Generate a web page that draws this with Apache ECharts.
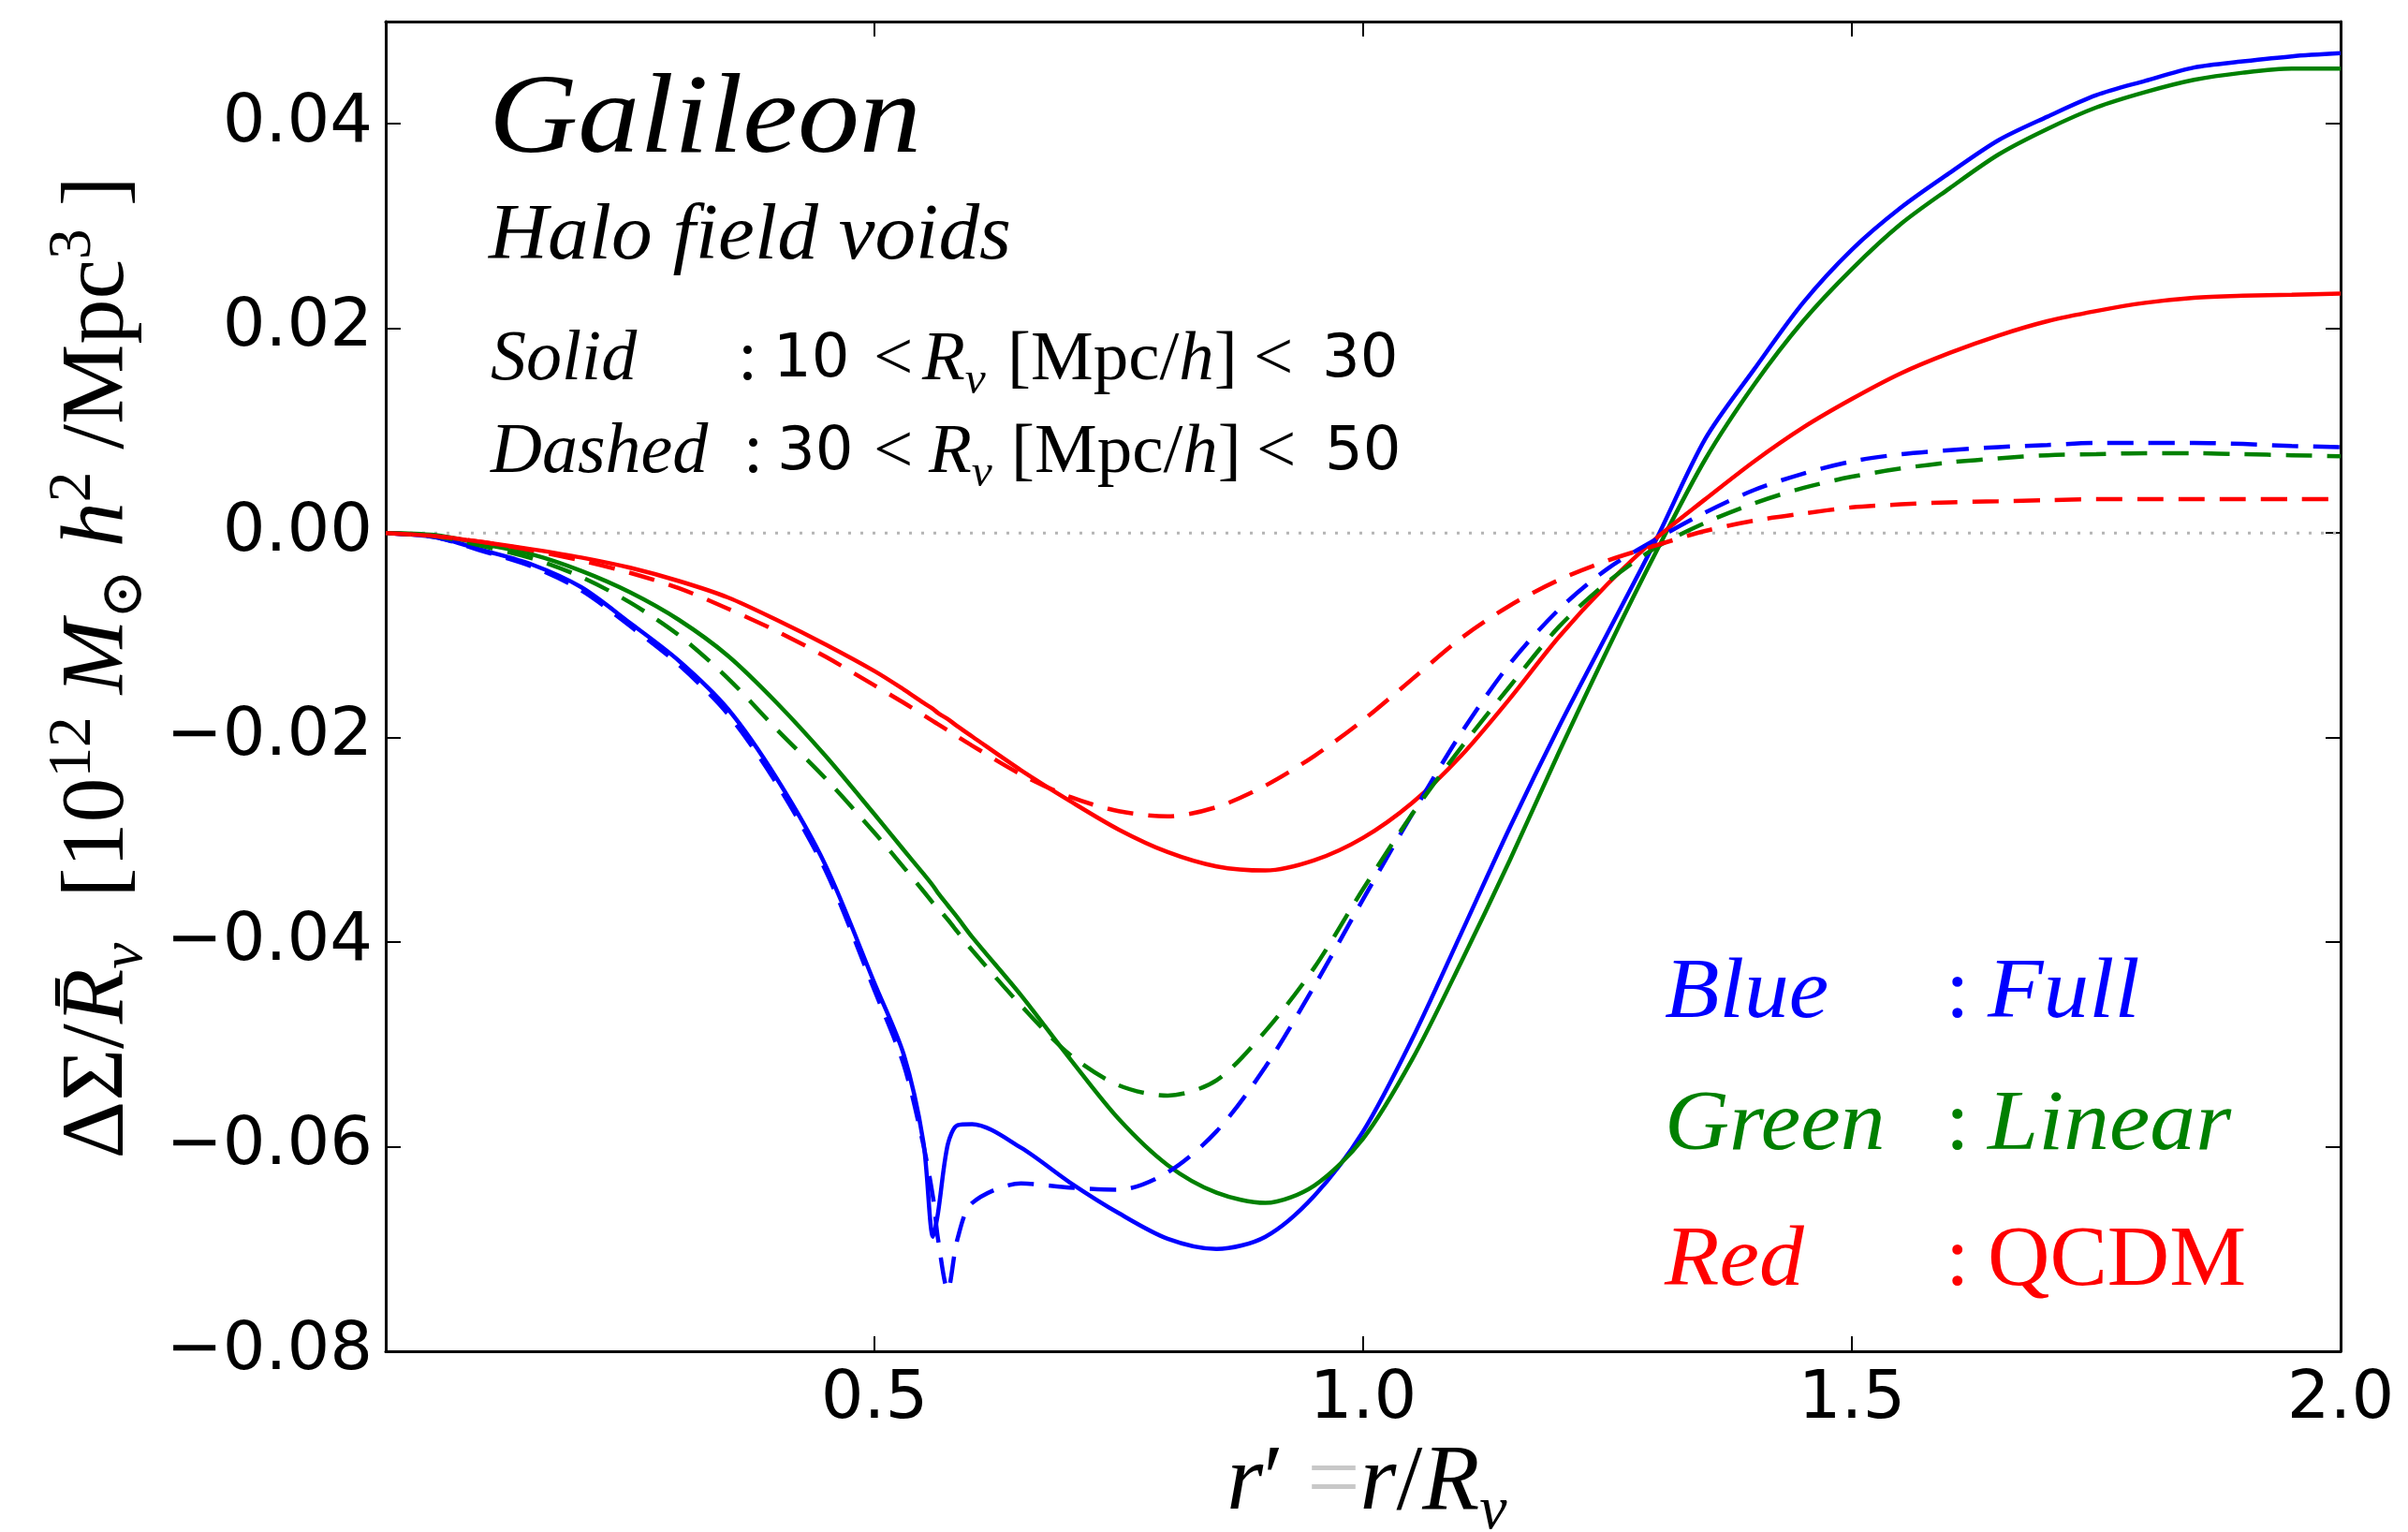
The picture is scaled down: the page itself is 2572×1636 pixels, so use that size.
<!DOCTYPE html>
<html>
<head>
<meta charset="utf-8">
<script src="https://cdn.jsdelivr.net/npm/echarts@6/dist/echarts.min.js"></script>
<style>
    html, body { margin: 0; padding: 0; background: #fff; }
    #chart { width: 2572px; height: 1636px; }
</style>
</head>
<body>
<div id="chart"></div>
<script>
    // r' = r / R_v  (shared sampling, denser near the blue dip)
    const r = [0, 0.05, 0.10, 0.15, 0.20, 0.25, 0.30, 0.35, 0.40, 0.45, 0.50, 0.53, 0.55, 0.56, 0.565, 0.575, 0.585,
        0.60, 0.65, 0.70, 0.75, 0.80, 0.85, 0.90, 0.95, 1.00, 1.05, 1.10, 1.15, 1.20, 1.25, 1.30, 1.35, 1.40, 1.45,
        1.50, 1.55, 1.60, 1.65, 1.70, 1.75, 1.80, 1.85, 1.90, 1.95, 2.00];

    // solid: 10 < Rv < 30, dashed: 30 < Rv < 50
    const blueSolid = [0, -0.0004, -0.0017, -0.0031, -0.0053, -0.0088, -0.0125, -0.0172, -0.0240, -0.0325, -0.0440,
        -0.0510, -0.0595, -0.0688, -0.0665, -0.0598, -0.0579, -0.0578, -0.0601, -0.0635, -0.0665, -0.0690, -0.0700,
        -0.0688, -0.0648, -0.0585, -0.0495, -0.0392, -0.0288, -0.0190, -0.0098, -0.0006, 0.0092, 0.0160, 0.0225,
        0.0277, 0.0318, 0.0352, 0.0384, 0.0407, 0.0428, 0.0442, 0.0455, 0.0461, 0.0466, 0.0469];
    const blueDashed = [0, -0.0004, -0.0018, -0.0033, -0.0056, -0.0091, -0.0129, -0.0177, -0.0245, -0.0330, -0.0447,
        -0.0520, -0.0598, -0.0650, -0.0690, -0.0740, -0.0690, -0.0655, -0.0636, -0.0640, -0.0642, -0.0625, -0.0585,
        -0.0522, -0.0443, -0.0358, -0.0275, -0.0196, -0.0128, -0.0075, -0.0035, -0.0006, 0.0020, 0.0042, 0.0058,
        0.0070, 0.0077, 0.0081, 0.0084, 0.0086, 0.0088, 0.0088, 0.0088, 0.0087, 0.0085, 0.0084];
    const greenSolid = [0, -0.0002, -0.0011, -0.0021, -0.0037, -0.0058, -0.0085, -0.0120, -0.0166, -0.0218, -0.0275,
        -0.0310, -0.0333, -0.0345, -0.0352, -0.0364, -0.0376, -0.0395, -0.0452, -0.0514, -0.0573, -0.0618, -0.0645,
        -0.0655, -0.0638, -0.0592, -0.0515, -0.0420, -0.0320, -0.0215, -0.0114, -0.0018, 0.0072, 0.0145, 0.0207,
        0.0258, 0.0302, 0.0337, 0.0370, 0.0395, 0.0416, 0.0431, 0.0443, 0.0450, 0.0454, 0.0454];
    const greenDashed = [0, -0.0003, -0.0013, -0.0025, -0.0043, -0.0068, -0.0100, -0.0142, -0.0192, -0.0240, -0.0293,
        -0.0327, -0.0350, -0.0362, -0.0367, -0.0378, -0.0390, -0.0408, -0.0462, -0.0510, -0.0540, -0.0550, -0.0535,
        -0.0487, -0.0425, -0.0348, -0.0275, -0.0210, -0.0150, -0.0092, -0.0048, -0.0014, 0.0010, 0.0029, 0.0044,
        0.0055, 0.0063, 0.0069, 0.0073, 0.0076, 0.0077, 0.0078, 0.0078, 0.0077, 0.0076, 0.0075];
    const redSolid = [0, -0.0003, -0.0009, -0.0016, -0.0024, -0.0034, -0.0047, -0.0063, -0.0085, -0.0109, -0.0135,
        -0.0153, -0.0166, -0.0172, -0.0176, -0.0182, -0.0189, -0.0199, -0.0232, -0.0262, -0.0290, -0.0312, -0.0326,
        -0.0330, -0.0320, -0.0298, -0.0264, -0.0218, -0.0162, -0.0102, -0.0050, -0.0005, 0.0033, 0.0070, 0.0103,
        0.0131, 0.0156, 0.0176, 0.0193, 0.0207, 0.0217, 0.0225, 0.0230, 0.0232, 0.0233, 0.0234];
    const redDashed = [0, -0.0003, -0.0009, -0.0017, -0.0027, -0.0039, -0.0054, -0.0074, -0.0096, -0.0121, -0.0149,
        -0.0166, -0.0178, -0.0184, -0.0187, -0.0193, -0.0199, -0.0208, -0.0236, -0.0258, -0.0272, -0.0277, -0.0268,
        -0.0247, -0.0218, -0.0183, -0.0143, -0.0103, -0.0071, -0.0046, -0.0027, -0.0012, 0.0002, 0.0012, 0.0019,
        0.0025, 0.0028, 0.0030, 0.0031, 0.0032, 0.0033, 0.0033, 0.0033, 0.0033, 0.0033, 0.0033];

    const xTicks = [0.5, 1.0, 1.5, 2.0];
    const yTicks = [-0.08, -0.06, -0.04, -0.02, 0.00, 0.02, 0.04];

    const SERIF = '"Liberation Serif", "DejaVu Serif", serif';
    const SANS = '"DejaVu Sans", sans-serif';
    const BLUE = '#0000ff', GREEN = '#008000', RED = '#ff0000';
    const DASH = [28, 16];

    function pairs(ys) {
        return r.map((x, i) => [x, ys[i]]);
    }

    function fmtY(v) {
        if (Math.abs(v) < 1e-9) v = 0;
        let s = Math.abs(v).toFixed(2);
        return v < 0 ? '\u2212' + s : s;
    }

    function curve(name, ys, color, dashed) {
        return {
            name: name,
            type: 'line',
            data: pairs(ys),
            symbol: 'none',
            smooth: 0.3,
            lineStyle: {color: color, width: 4.5, type: dashed ? DASH : 'solid'},
            z: 3
        };
    }

    // plain text helper for annotations
    function txt(x, y, text, size, o) {
        o = o || {};
        return {
            type: 'text', x: x, y: y, silent: true,
            scaleX: o.sx || 1,
            rotation: o.rot || 0,
            style: {
                text: text,
                fontFamily: o.font || SERIF,
                fontSize: size,
                fontStyle: o.italic ? 'italic' : 'normal',
                fill: o.color || '#000',
                align: o.align || 'left',
                verticalAlign: 'middle',
                rich: o.rich
            }
        };
    }

    function mathRich(size, color) {
        return {
            n: {fontFamily: SERIF, fontSize: size, lineHeight: size * 1.25, verticalAlign: 'middle', fill: color},
            i: {fontFamily: SERIF, fontStyle: 'italic', fontSize: size, lineHeight: size * 1.25, verticalAlign: 'middle', fill: color},
            g: {fontFamily: SERIF, fontSize: size, lineHeight: size * 1.25, verticalAlign: 'middle', fill: '#c8c8c8'},
            sp: {fontFamily: SERIF, fontSize: size * 0.68, lineHeight: size * 0.68, verticalAlign: 'top', fill: color},
            sb: {fontFamily: SERIF, fontStyle: 'italic', fontSize: size * 0.66, lineHeight: size * 0.66, verticalAlign: 'bottom', fill: color}
        };
    }

    // "Solid  : 10 < Rv [Mpc/h] < 30"; p = x of each piece
    function rangeRow(p, y, word, lo, hi) {
        return [
            txt(p[0], y, word, 76, {italic: true}),
            txt(p[1], y, ':', 76),
            txt(p[2], y, lo, 64, {font: SANS}),
            txt(p[3], y, '<', 75),
            txt(p[4], y, '{i|R}{sb|v}', 75, {rich: mathRich(75, '#000')}),
            txt(p[5], y, '{n|[Mpc/}{i|h}{n|]}', 75, {rich: mathRich(75, '#000')}),
            txt(p[6], y, '<', 75),
            txt(p[7], y, hi, 64, {font: SANS})
        ];
    }

    function legendRow(y, word, value, color, valueItalic) {
        return [
            txt(1778, y, word, 92, {italic: true, color: color, sx: 1.04}),
            txt(2078, y, ':', 92, {color: color}),
            txt(2123, y, value, 92, {italic: valueItalic, color: color, sx: valueItalic ? 1.06 : 1.0})
        ];
    }

    let graphics = [
        txt(522, 130, 'Galileon', 120, {italic: true, sx: 1.1}),
        txt(522, 254, 'Halo field voids', 84, {italic: true, sx: 1.04})
    ];
    graphics = graphics.concat(rangeRow([524, 788, 826, 933, 985, 1076, 1339, 1412], 385, 'Solid', '10', '30'));
    graphics = graphics.concat(rangeRow([524, 794, 830, 933, 992, 1080, 1342, 1415], 484, 'Dashed', '30', '50'));
    graphics = graphics.concat(legendRow(1062, 'Blue', 'Full', BLUE, true));
    graphics = graphics.concat(legendRow(1203, 'Green', 'Linear', GREEN, true));
    graphics = graphics.concat(legendRow(1348, 'Red', 'QCDM', RED, false));

    // axis titles
    graphics.push(txt(1460, 1585, '{i|r}{n|\u2032 }{g|=}{i|r}{n|/}{i|R}{sb|v}', 100,
        {align: 'center', rich: mathRich(100, '#000')}));
    graphics.push(txt(106, 713,
        '{n|\u0394\u03a3/}{i|R\u0304}{sb|v}{n|  [10}{sp|12}{i| M}{sb|\u2299}{i| h}{sp|2}{n| /Mpc}{sp|3}{n| ]}', 96,
        {align: 'center', rot: Math.PI / 2, rich: mathRich(96, '#000')}));

    const axisLine = {show: true, onZero: false, lineStyle: {color: '#000', width: 3}};
    const axisTick = {show: true, inside: true, length: 16, lineStyle: {color: '#000', width: 2}};

    const option = {
        backgroundColor: '#ffffff',
        animation: false,
        grid: {left: 412, right: 72, top: 23, bottom: 193, outerBoundsMode: 'none'},
        xAxis: [
            {
                type: 'value', min: 0, max: 2, interval: 0.5, position: 'bottom',
                axisLine: axisLine, axisTick: axisTick, splitLine: {show: false},
                axisLabel: {
                    show: true, margin: 16, showMinLabel: false,
                    fontFamily: SANS, fontSize: 72, color: '#000',
                    formatter: v => xTicks.some(t => Math.abs(t - v) < 1e-9) ? v.toFixed(1) : ''
                }
            },
            {
                type: 'value', min: 0, max: 2, interval: 0.5, position: 'top',
                axisLine: axisLine, axisTick: axisTick, splitLine: {show: false}, axisLabel: {show: false}
            }
        ],
        yAxis: [
            {
                type: 'value', min: -0.08, max: 0.05, interval: 0.02, position: 'left',
                axisLine: axisLine, axisTick: axisTick, splitLine: {show: false},
                axisLabel: {
                    show: true, margin: 14, showMaxLabel: false,
                    fontFamily: SANS, fontSize: 72, color: '#000',
                    formatter: v => yTicks.some(t => Math.abs(t - v) < 1e-9) ? fmtY(v) : ''
                }
            },
            {
                type: 'value', min: -0.08, max: 0.05, interval: 0.02, position: 'right',
                axisLine: axisLine, axisTick: axisTick, splitLine: {show: false}, axisLabel: {show: false}
            }
        ],
        graphic: graphics,
        series: [
            {
                name: 'zero', type: 'line', data: [[0, 0], [2, 0]], symbol: 'none', z: 1,
                lineStyle: {color: '#b4b4b4', width: 3, type: [3, 10]}
            },
            curve('Full 10-30', blueSolid, BLUE, false),
            curve('Linear 10-30', greenSolid, GREEN, false),
            curve('QCDM 10-30', redSolid, RED, false),
            curve('Full 30-50', blueDashed, BLUE, true),
            curve('Linear 30-50', greenDashed, GREEN, true),
            curve('QCDM 30-50', redDashed, RED, true)
        ]
    };

    const myChart = echarts.init(document.getElementById('chart'));
    myChart.setOption(option);
</script>
</body>
</html>
